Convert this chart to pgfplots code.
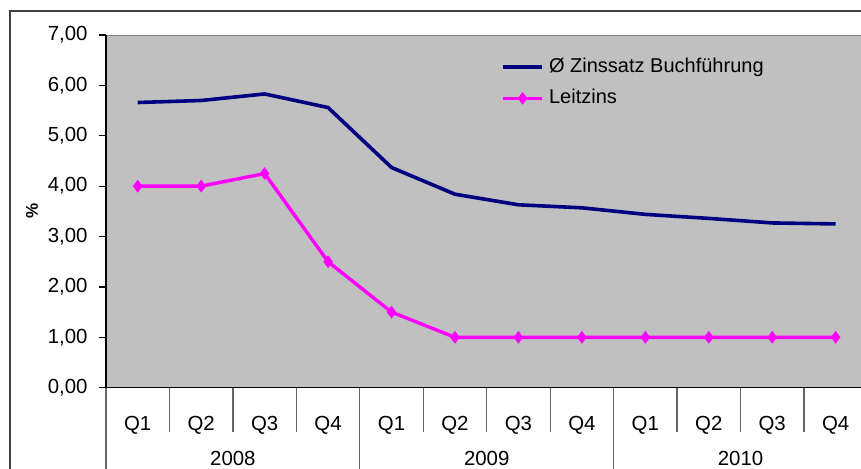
\documentclass[border=0pt]{standalone}
\usepackage{pgfplots}
\pgfplotsset{compat=1.18}
\usepackage{fontspec}
\setmainfont{Liberation Sans}
\definecolor{plotgray}{RGB}{192,192,192}
\definecolor{navyline}{RGB}{0,0,128}
\definecolor{magline}{RGB}{255,0,255}
\begin{document}
\begin{tikzpicture}
\begin{axis}[
  at={(53pt,40.65pt)}, anchor=south west,
  scale only axis, width=380.7pt, height=176.35pt,
  clip=false,
  xmin=-0.5, xmax=11.5, ymin=0, ymax=7,
  axis background/.style={fill=plotgray, draw=gray},
  axis x line*=bottom, axis y line*=left,
  axis line style={black, line width=0.6pt, -},
  tick align=outside, major tick length=3.5pt,
  ytick={0,1,...,7},
  yticklabels={{0,00},{1,00},{2,00},{3,00},{4,00},{5,00},{6,00},{7,00}},
  xtick={-0.5,0.5,...,10.5},
  xticklabels={Q1,Q2,Q3,Q4,Q1,Q2,Q3,Q4,Q1,Q2,Q3,Q4},
  x tick style={draw=none},
  y tick style={black, line width=0.6pt},
  every tick label/.append style={font=\fontsize{10.2}{12}\selectfont},
  xticklabel style={anchor=center, xshift=15.86pt, yshift=-15.15pt, inner sep=0pt},
  yticklabel style={anchor=east, inner sep=0pt, xshift=-5.5pt},
  ylabel={\textbf{\%}},
  ylabel style={at={(axis description cs:-0.0972,0.5)}, anchor=center, font=\fontsize{8.5}{10}\selectfont},
  legend style={draw=none, fill=none, at={(rel axis cs:0.5184,0.8653)}, anchor=west,
    inner sep=0pt, row sep=6.3pt, font=\fontsize{10}{12}\selectfont,
    nodes={inner sep=0pt, text height=7.5pt, text depth=2pt}},
  legend cell align=left,
  /tikz/every odd column/.style={column sep=2.5pt},
  legend image code/.code={\draw[mark repeat=2,mark phase=2,#1] plot coordinates {(0pt,0pt)(9.85pt,0pt)(19.7pt,0pt)};},
]
\addplot[navyline, line width=1.8pt, no markers] coordinates {
(0,5.66) (1,5.70) (2,5.83) (3,5.56) (4,4.37) (5,3.84) (6,3.63) (7,3.57) (8,3.44) (9,3.36) (10,3.27) (11,3.25)};
\addlegendentry{Ø Zinssatz Buchführung}
\addplot[magline, line width=1.7pt, mark=diamond*, mark size=2.8pt, mark options={fill=magline, draw=magline, line width=0.5pt}] coordinates {
(0,4.00) (1,4.00) (2,4.25) (3,2.50) (4,1.50) (5,1.00) (6,1.00) (7,1.00) (8,1.00) (9,1.00) (10,1.00) (11,1.00)};
\addlegendentry{Leitzins}
% category separators
\pgfplotsinvokeforeach{0.5,1.5,2.5,4.5,5.5,6.5,8.5,9.5,10.5}{
  \draw[black!60, line width=0.6pt] (axis cs:#1,0) -- ++(0pt,-22pt);
}
\pgfplotsinvokeforeach{-0.5,3.5,7.5,11.5}{
  \draw[black!60, line width=0.6pt] (axis cs:#1,0) -- ++(0pt,-60pt);
}
\node[font=\fontsize{10.2}{12}\selectfont, anchor=center] at ([yshift=-35.5pt]axis cs:1.5,0) {2008};
\node[font=\fontsize{10.2}{12}\selectfont, anchor=center] at ([yshift=-35.5pt]axis cs:5.5,0) {2009};
\node[font=\fontsize{10.2}{12}\selectfont, anchor=center] at ([yshift=-35.5pt]axis cs:9.5,0) {2010};
\end{axis}
\draw[black!75, line width=0.6pt] (5pt,-20pt) -- (5pt,229pt) -- (450pt,229pt);
\pgfresetboundingbox
\useasboundingbox (0,0) rectangle (430.5pt,234.5pt);
\end{tikzpicture}
\end{document}
